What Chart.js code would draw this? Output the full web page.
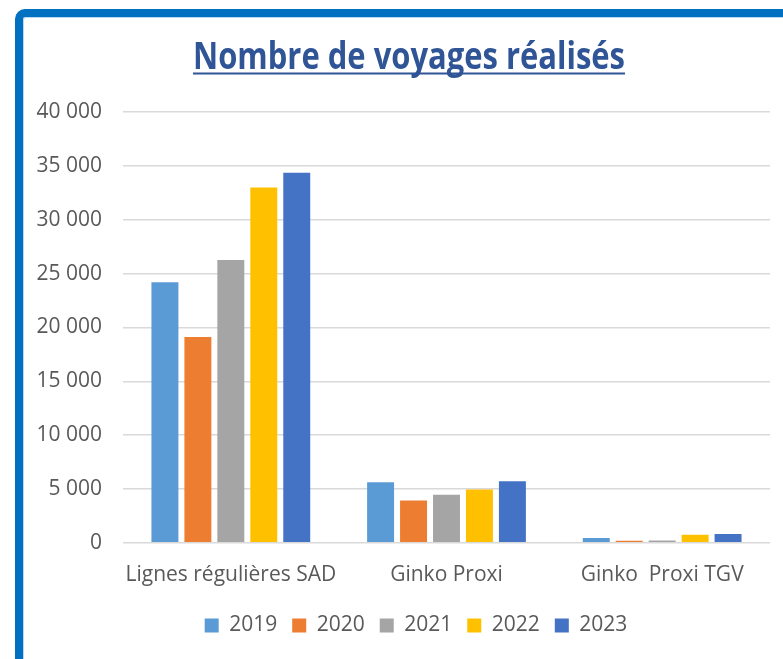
<!DOCTYPE html>
<html>
<head>
<meta charset="utf-8">
<script src="https://cdn.jsdelivr.net/npm/chart.js@4"></script>
<style>
  html, body { margin: 0; padding: 0; background: #fff; overflow: hidden; }
  #frame {
    position: absolute; left: 15px; top: 9px; width: 900px; height: 800px;
    border: 8px solid #0070C0; border-radius: 10px;
    box-shadow: inset 1px 1px 0 #BDD7EE;
  }
  #wrap { position: absolute; left: 0; top: 0; width: 783px; height: 659px; }
</style>
</head>
<body>
<div id="frame"></div>
<div id="wrap"><canvas id="chart"></canvas></div>
<script>
  // Data
  const categories = ["Lignes régulières SAD", "Ginko Proxi", "Ginko  Proxi TGV"];
  const years = ["2019", "2020", "2021", "2022", "2023"];
  const values2019 = [24200, 5620, 450];
  const values2020 = [19100, 3920, 200];
  const values2021 = [26250, 4450, 220];
  const values2022 = [33000, 4960, 740];
  const values2023 = [34350, 5710, 810];
  const yTicks = [0, 5000, 10000, 15000, 20000, 25000, 30000, 35000, 40000];
  const chartTitle = "Nombre de voyages réalisés";

  const colors = ["#5B9BD5", "#ED7D31", "#A5A5A5", "#FFC000", "#4472C4"];
  const series = [values2019, values2020, values2021, values2022, values2023];

  const FONT = "'Open Sans', sans-serif";
  const TITLE_COLOR = "#2F5597";

  function formatThousands(v) {
    return String(v).replace(/\B(?=(\d{3})+(?!\d))/g, " ");
  }

  // underlined, slightly condensed title (Calibri-like proportions)
  const underlinedTitle = {
    id: "underlinedTitle",
    afterLayout(chart) {
      // legend sits a little right of the canvas centre in the original
      chart.legend.left += 14;
      chart.legend.right += 14;
    },
    afterDraw(chart) {
      const ctx = chart.ctx;
      ctx.save();
      ctx.font = "bold 37px " + FONT;
      ctx.fillStyle = TITLE_COLOR;
      ctx.textAlign = "center";
      ctx.textBaseline = "alphabetic";
      const w = ctx.measureText(chartTitle).width;
      const sx = 432 / w;
      ctx.translate(409, 69);
      ctx.scale(sx, 1);
      ctx.fillText(chartTitle, 0, 0);
      ctx.strokeStyle = TITLE_COLOR;
      ctx.lineWidth = 2.2;
      ctx.beginPath();
      ctx.moveTo(-w / 2, 4.5);
      ctx.lineTo(w / 2, 4.5);
      ctx.stroke();
      ctx.restore();
    }
  };

  new Chart(document.getElementById("chart"), {
    type: "bar",
    data: {
      labels: categories,
      datasets: years.map((y, i) => ({
        label: y,
        data: series[i],
        backgroundColor: colors[i],
        borderWidth: 0,
        categoryPercentage: 0.764,
        barPercentage: 0.818
      }))
    },
    options: {
      responsive: true,
      maintainAspectRatio: false,
      animation: false,
      layout: { padding: { left: 34, right: 13, top: 112, bottom: 13 } },
      plugins: {
        title: { display: false },
        legend: {
          position: "bottom",
          labels: {
            color: "#595959",
            font: { family: FONT, size: 21 },
            boxWidth: 14,
            boxHeight: 14,
            padding: 15
          }
        },
        tooltip: { enabled: false }
      },
      scales: {
        x: {
          grid: { display: false },
          border: { display: false },
          ticks: {
            color: "#595959",
            font: { family: FONT, size: 21 },
            padding: 12,
            maxRotation: 0
          }
        },
        y: {
          min: 0,
          max: 40000,
          afterBuildTicks(axis) {
            axis.ticks = yTicks.map(v => ({ value: v }));
          },
          afterFit(axis) {
            axis.width = 89;
          },
          grid: { color: "#D9D9D9", lineWidth: 1.5, drawTicks: false },
          border: { display: false },
          ticks: {
            color: "#595959",
            font: { family: FONT, size: 21 },
            padding: 21,
            callback: v => formatThousands(v)
          }
        }
      }
    },
    plugins: [underlinedTitle]
  });
</script>
</body>
</html>
